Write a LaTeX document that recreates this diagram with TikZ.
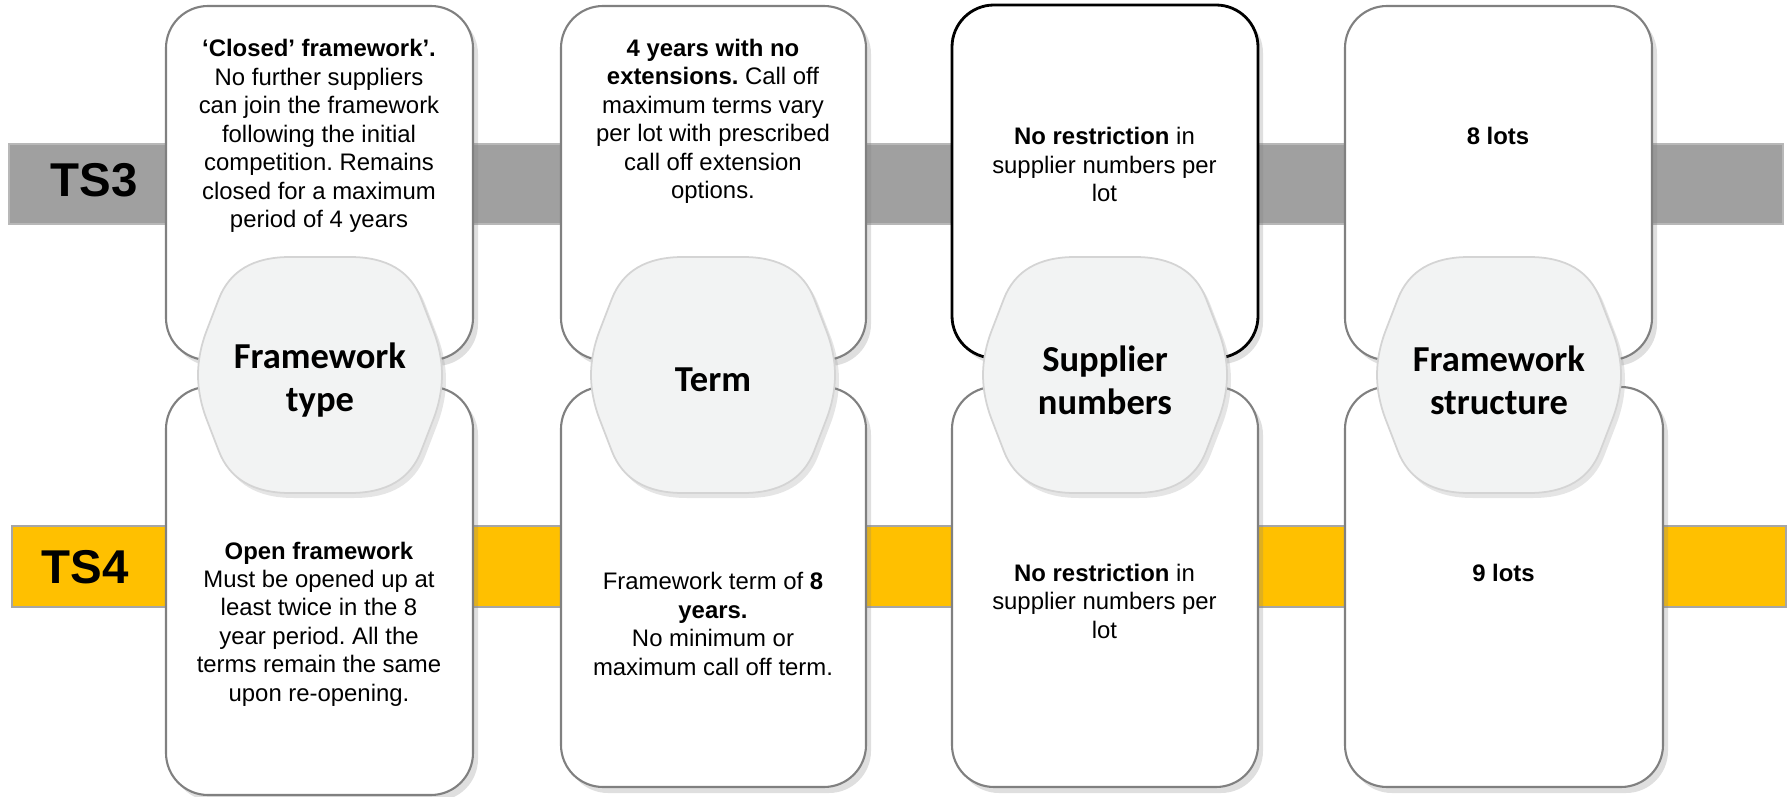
\documentclass[tikz,border=0pt]{standalone}
\usepackage{fontspec}
\setmainfont{Liberation Sans}
\newfontfamily\hexfont{Carlito}
\usetikzlibrary{shadows}
\frenchspacing

\definecolor{tsgray}{RGB}{160,160,160}
\definecolor{tsgold}{RGB}{255,192,0}
\definecolor{cardline}{RGB}{128,128,128}
\definecolor{hexfill}{RGB}{242,243,243}
\definecolor{hexline}{RGB}{212,212,212}

\tikzset{
  tsband/.style={line width=0.4pt, inner sep=0pt, outer sep=0pt},
  tslabel/.style={font=\fontsize{13.5}{16}\selectfont\bfseries, inner sep=0pt},
  card/.style={draw=cardline, line width=0.6pt, fill=white, rounded corners=0.42cm,
    inner sep=0pt, outer sep=0pt,
    drop shadow={opacity=0.25, shadow xshift=0.05cm, shadow yshift=-0.06cm}},
  cardtext/.style={align=center, font=\fontsize{6.8}{8.1}\selectfont, inner sep=0pt},
  hexlabel/.style={align=center, font=\hexfont\bfseries\fontsize{10.4}{12.3}\selectfont, inner sep=0pt},
  hexa/.pic={
    \path[fill=hexfill, draw=hexline, line width=0.5pt,
      drop shadow={opacity=0.2, shadow xshift=0.04cm, shadow yshift=-0.05cm}]
      (0,1.18) -- (0.3,1.18) .. controls (0.667,1.18) and (0.904,1.04) .. (1.012,0.76)
      -- (1.13,0.453) .. controls (1.19,0.298) and (1.22,0.147) .. (1.22,0)
      .. controls (1.22,-0.147) and (1.19,-0.298) .. (1.13,-0.453)
      -- (1.012,-0.76) .. controls (0.904,-1.04) and (0.667,-1.18) .. (0.3,-1.18)
      -- (-0.3,-1.18) .. controls (-0.667,-1.18) and (-0.904,-1.04) .. (-1.012,-0.76)
      -- (-1.13,-0.453) .. controls (-1.19,-0.298) and (-1.22,-0.147) .. (-1.22,0)
      .. controls (-1.22,0.147) and (-1.19,0.298) .. (-1.13,0.453)
      -- (-1.012,0.76) .. controls (-0.904,1.04) and (-0.667,1.18) .. (-0.3,1.18) -- cycle;
    \node[hexlabel] (-txt) at (0,-0.05) {#1};
  }
}

\begin{document}
\begin{tikzpicture}
    \useasboundingbox (0,0) rectangle (17.92,7.96);

    % the two bands
    \node[tsband, fill=tsgray, draw=tsgray!75!white, minimum width=17.74cm, minimum height=0.80cm] (band3) at (8.96,6.12) {};
    \node[tsband, fill=tsgold, draw=gray!70, minimum width=17.74cm, minimum height=0.81cm] (band4) at (8.99,2.295) {};
    \node[tslabel] (ts3) at (0.945,6.16) {TS3};
    \node[tslabel] (ts4) at (0.85,2.29) {TS4};

    % cards
    \node[card, minimum width=3.07cm, minimum height=3.54cm] (c1top) at (3.195,6.13) {};
    \node[card, minimum width=3.07cm, minimum height=4.08cm] (c1bot) at (3.195,2.05) {};
    \node[card, minimum width=3.05cm, minimum height=3.54cm] (c2top) at (7.135,6.13) {};
    \node[card, minimum width=3.05cm, minimum height=4.00cm] (c2bot) at (7.135,2.09) {};
    \node[card, draw=black, line width=0.8pt, minimum width=3.06cm, minimum height=3.53cm] (c3top) at (11.05,6.145) {};
    \node[card, minimum width=3.06cm, minimum height=4.00cm] (c3bot) at (11.05,2.09) {};
    \node[card, minimum width=3.07cm, minimum height=3.54cm] (c4top) at (14.985,6.13) {};
    \node[card, minimum width=3.18cm, minimum height=4.00cm] (c4bot) at (15.04,2.09) {};

    % card texts
    \node[cardtext] (t1top) at (3.19,6.60) {\textbf{‘Closed’ framework’.}\\No further suppliers\\can join the framework\\following the initial\\competition. Remains\\closed for a maximum\\period of 4 years};
    \node[cardtext] (t2top) at (7.13,6.745) {\textbf{4 years with no}\\\textbf{extensions.} Call off\\maximum terms vary\\per lot with prescribed\\call off extension\\options.};
    \node[cardtext] (t3top) at (11.045,6.315) {\textbf{No restriction} in\\supplier numbers per\\lot};
    \node[cardtext] (t4top) at (14.98,6.60) {\textbf{8 lots}};
    \node[cardtext] (t1bot) at (3.19,1.72) {\textbf{Open framework}\\Must be opened up at\\least twice in the 8\\year period. All the\\terms remain the same\\upon re-opening.};
    \node[cardtext] (t2bot) at (7.13,1.72) {Framework term of \textbf{8}\\\textbf{years.}\\No minimum or\\maximum call off term.};
    \node[cardtext] (t3bot) at (11.045,1.95) {\textbf{No restriction} in\\supplier numbers per\\lot};
    \node[cardtext] (t4bot) at (15.035,2.23) {\textbf{9 lots}};

    % hexagons
    \pic (hx1) at (3.20,4.21) {hexa={Framework\\type}};
    \pic (hx2) at (7.13,4.21) {hexa={Term}};
    \pic (hx3) at (11.05,4.21) {hexa={Supplier\\numbers}};
    \pic (hx4) at (14.99,4.21) {hexa={Framework\\structure}};
\end{tikzpicture}
\end{document}
